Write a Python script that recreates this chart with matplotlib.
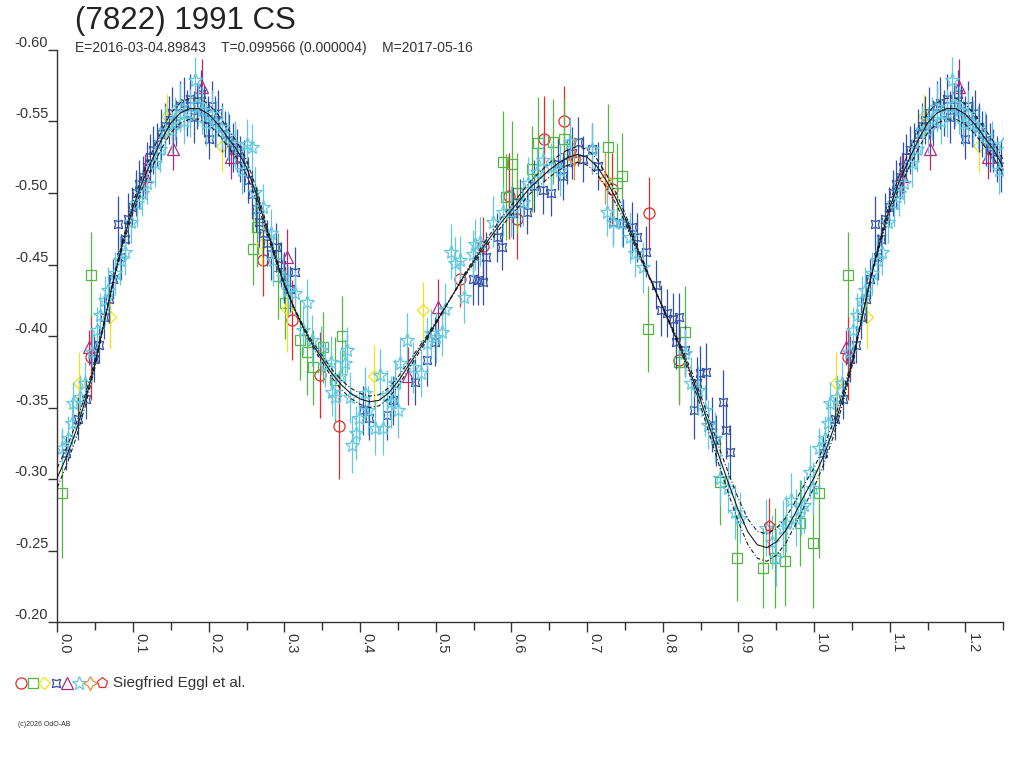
import numpy as np
import matplotlib
matplotlib.use("Agg")
import matplotlib.pyplot as plt

plt.rcParams['font.family'] = ['Liberation Sans', 'DejaVu Sans']

title = "(7822) 1991 CS"
subtitle = "E=2016-03-04.89843    T=0.099566 (0.000004)    M=2017-05-16"
observer = "Siegfried Eggl et al."
credit = "(c)2026 OdO-AB"

x_ticks = [0.0, 0.1, 0.2, 0.3, 0.4, 0.5, 0.6, 0.7, 0.8, 0.9, 1.0, 1.1, 1.2]
y_ticks = [-0.60, -0.55, -0.50, -0.45, -0.40, -0.35, -0.30, -0.25, -0.20]

# fitted lightcurve, phase step 0.0125 (one period)
curve_step = 0.0125
curve_mag = [-0.301, -0.316, -0.334, -0.356, -0.381, -0.411, -0.441, -0.467,
             -0.490, -0.508, -0.523, -0.537, -0.549, -0.556, -0.559, -0.559,
             -0.555, -0.548, -0.539, -0.530, -0.518, -0.500, -0.478, -0.456,
             -0.436, -0.420, -0.406, -0.394, -0.384, -0.374, -0.366, -0.360,
             -0.356, -0.354, -0.355, -0.360, -0.368, -0.378, -0.388, -0.398,
             -0.409, -0.420, -0.431, -0.442, -0.452, -0.462, -0.471, -0.480,
             -0.488, -0.496, -0.504, -0.510, -0.516, -0.521, -0.525, -0.527,
             -0.525, -0.519, -0.509, -0.497, -0.483, -0.466, -0.450, -0.435,
             -0.420, -0.405, -0.390, -0.373, -0.355, -0.335, -0.315, -0.296,
             -0.278, -0.263, -0.254, -0.252, -0.256, -0.264, -0.276, -0.289]
amp_err = 0.055

# observations: phase, reduced magnitude, error
red_phase = [0.045, 0.272, 0.310, 0.347, 0.372, 0.532, 0.562, 0.597, 0.607,
             0.643, 0.669, 0.733, 0.782, 0.821]
red_mag = [-0.385, -0.453, -0.411, -0.373, -0.337, -0.440, -0.463, -0.498,
           -0.482, -0.538, -0.550, -0.503, -0.486, -0.383]
red_err = [0.030, 0.025, 0.028, 0.030, 0.037, 0.020, 0.020, 0.030, 0.028,
           0.030, 0.025, 0.025, 0.025, 0.030]

green_phase = [0.006, 0.045, 0.258, 0.264, 0.292, 0.301, 0.321, 0.330, 0.338,
               0.351, 0.367, 0.376, 0.589, 0.593, 0.601, 0.607, 0.627, 0.635,
               0.655, 0.669, 0.728, 0.739, 0.746, 0.780, 0.821, 0.829, 0.875,
               0.898, 0.932, 0.948, 0.961, 0.981, 0.998]
green_mag = [-0.290, -0.443, -0.461, -0.476, -0.442, -0.423, -0.397, -0.389,
             -0.378, -0.392, -0.369, -0.400, -0.522, -0.497, -0.520, -0.500,
             -0.517, -0.535, -0.536, -0.538, -0.532, -0.507, -0.512, -0.405,
             -0.382, -0.403, -0.298, -0.245, -0.238, -0.245, -0.243, -0.269,
             -0.255]
green_err = [0.045, 0.030, 0.025, 0.028, 0.030, 0.025, 0.028, 0.030, 0.026,
             0.025, 0.030, 0.028, 0.035, 0.030, 0.030, 0.028, 0.030, 0.032,
             0.030, 0.028, 0.030, 0.028, 0.030, 0.030, 0.030, 0.032, 0.030,
             0.030, 0.028, 0.035, 0.032, 0.030, 0.045]

yellow_phase = [0.029, 0.070, 0.145, 0.218, 0.270, 0.303, 0.418, 0.483]
yellow_mag = [-0.367, -0.413, -0.554, -0.533, -0.464, -0.419, -0.372, -0.418]
yellow_err = [0.022, 0.022, 0.015, 0.018, 0.015, 0.030, 0.022, 0.020]

blue_phase = [0.012, 0.028, 0.038, 0.048, 0.055, 0.062, 0.068, 0.074, 0.080,
              0.084, 0.089, 0.094, 0.099, 0.104, 0.108, 0.113, 0.118, 0.122,
              0.127, 0.132, 0.137, 0.142, 0.147, 0.152, 0.157, 0.162, 0.167,
              0.171, 0.176, 0.180, 0.185, 0.190, 0.194, 0.199, 0.200, 0.204,
              0.209, 0.213, 0.218, 0.222, 0.227, 0.232, 0.237, 0.242, 0.247,
              0.252, 0.257, 0.262, 0.267, 0.272, 0.277, 0.283, 0.289, 0.295,
              0.300, 0.307, 0.314, 0.404, 0.412, 0.436, 0.444, 0.473, 0.488,
              0.499, 0.549, 0.556, 0.563, 0.567, 0.581, 0.587, 0.602, 0.612,
              0.620, 0.630, 0.642, 0.653, 0.661, 0.668, 0.673, 0.680, 0.688,
              0.695, 0.706, 0.714, 0.734, 0.747, 0.759, 0.766, 0.778, 0.791,
              0.798, 0.805, 0.813, 0.818, 0.821, 0.830, 0.841, 0.845, 0.849,
              0.857, 0.865, 0.871, 0.879, 0.884, 0.889]
blue_mag = [-0.318, -0.342, -0.356, -0.384, -0.394, -0.413, -0.426, -0.440,
            -0.478, -0.455, -0.468, -0.482, -0.490, -0.500, -0.506, -0.511,
            -0.518, -0.525, -0.530, -0.534, -0.541, -0.547, -0.551, -0.556,
            -0.549, -0.561, -0.563, -0.556, -0.566, -0.553, -0.561, -0.569,
            -0.557, -0.552, -0.538, -0.561, -0.550, -0.556, -0.546, -0.541,
            -0.537, -0.532, -0.530, -0.524, -0.519, -0.509, -0.499, -0.489,
            -0.480, -0.472, -0.465, -0.457, -0.462, -0.450, -0.441, -0.433,
            -0.445, -0.348, -0.343, -0.345, -0.355, -0.368, -0.383, -0.396,
            -0.440, -0.439, -0.438, -0.455, -0.469, -0.462, -0.486, -0.493,
            -0.487, -0.505, -0.502, -0.500, -0.520, -0.512, -0.522, -0.528,
            -0.536, -0.524, -0.531, -0.519, -0.480, -0.479, -0.476, -0.469,
            -0.459, -0.436, -0.418, -0.416, -0.412, -0.396, -0.413, -0.390,
            -0.348, -0.367, -0.374, -0.375, -0.338, -0.327, -0.354, -0.334,
            -0.319]
blue_err = [0.012, 0.015, 0.014, 0.016, 0.013, 0.015, 0.017, 0.014, 0.020,
            0.016, 0.015, 0.018, 0.014, 0.016, 0.017, 0.015, 0.018, 0.016,
            0.017, 0.015, 0.018, 0.016, 0.017, 0.018, 0.016, 0.017, 0.018,
            0.016, 0.017, 0.018, 0.016, 0.017, 0.018, 0.016, 0.014, 0.017,
            0.018, 0.016, 0.017, 0.016, 0.018, 0.017, 0.015, 0.016, 0.018,
            0.016, 0.017, 0.016, 0.018, 0.017, 0.016, 0.018, 0.017, 0.016,
            0.018, 0.016, 0.017, 0.017, 0.016, 0.018, 0.017, 0.016, 0.018,
            0.017, 0.018, 0.017, 0.016, 0.018, 0.017, 0.016, 0.018, 0.017,
            0.016, 0.018, 0.017, 0.016, 0.018, 0.017, 0.016, 0.018, 0.017,
            0.016, 0.018, 0.017, 0.016, 0.017, 0.018, 0.017, 0.018, 0.017,
            0.018, 0.017, 0.018, 0.019, 0.017, 0.018, 0.020, 0.018, 0.019,
            0.020, 0.019, 0.018, 0.022, 0.020, 0.019]

purple_phase = [0.042, 0.116, 0.153, 0.191, 0.230, 0.303, 0.464, 0.503]
purple_mag = [-0.392, -0.512, -0.531, -0.574, -0.525, -0.455, -0.372, -0.420]
purple_err = [0.012, 0.015, 0.015, 0.020, 0.015, 0.020, 0.020, 0.020]

cyan_phase = [0.006, 0.014, 0.019, 0.021, 0.030, 0.037, 0.046, 0.052, 0.057,
              0.063, 0.067, 0.076, 0.083, 0.090, 0.098, 0.105, 0.112, 0.119,
              0.129, 0.136, 0.142, 0.151, 0.156, 0.162, 0.168, 0.175, 0.182,
              0.186, 0.191, 0.197, 0.204, 0.210, 0.217, 0.226, 0.235, 0.244,
              0.250, 0.257, 0.261, 0.272, 0.283, 0.285, 0.298, 0.305, 0.314,
              0.325, 0.330, 0.337, 0.349, 0.354, 0.361, 0.363, 0.367, 0.374,
              0.380, 0.383, 0.387, 0.389, 0.395, 0.398, 0.406, 0.411, 0.420,
              0.427, 0.431, 0.435, 0.441, 0.446, 0.450, 0.453, 0.462, 0.470,
              0.481, 0.488, 0.494, 0.501, 0.508, 0.512, 0.520, 0.525, 0.532,
              0.538, 0.549, 0.552, 0.558, 0.576, 0.589, 0.600, 0.615, 0.622,
              0.634, 0.642, 0.653, 0.664, 0.677, 0.707, 0.727, 0.734, 0.746,
              0.757, 0.763, 0.774, 0.829, 0.838, 0.847, 0.856, 0.860, 0.869,
              0.875, 0.886, 0.895, 0.902, 0.937, 0.944, 0.950, 0.959, 0.963,
              0.970, 0.976, 0.983, 0.987, 0.994, 0.999]
cyan_mag = [-0.322, -0.329, -0.339, -0.353, -0.357, -0.367, -0.389, -0.404,
            -0.415, -0.425, -0.432, -0.444, -0.453, -0.459, -0.480, -0.493,
            -0.500, -0.507, -0.521, -0.531, -0.544, -0.544, -0.552, -0.560,
            -0.550, -0.556, -0.579, -0.562, -0.558, -0.549, -0.555, -0.548,
            -0.546, -0.540, -0.534, -0.516, -0.534, -0.532, -0.501, -0.490,
            -0.472, -0.453, -0.441, -0.432, -0.430, -0.404, -0.424, -0.397,
            -0.390, -0.380, -0.382, -0.361, -0.357, -0.372, -0.381, -0.390,
            -0.357, -0.324, -0.332, -0.343, -0.360, -0.348, -0.336, -0.373,
            -0.336, -0.359, -0.354, -0.367, -0.348, -0.381, -0.397, -0.378,
            -0.374, -0.395, -0.402, -0.399, -0.403, -0.419, -0.459, -0.451,
            -0.453, -0.427, -0.457, -0.464, -0.466, -0.480, -0.487, -0.487,
            -0.494, -0.507, -0.515, -0.523, -0.518, -0.516, -0.536, -0.531,
            -0.487, -0.480, -0.479, -0.469, -0.458, -0.448, -0.388, -0.367,
            -0.362, -0.348, -0.338, -0.329, -0.301, -0.294, -0.277, -0.273,
            -0.266, -0.256, -0.245, -0.266, -0.269, -0.285, -0.273, -0.280,
            -0.282, -0.305, -0.294]
cyan_err = [0.014, 0.015, 0.016, 0.015, 0.016, 0.015, 0.017, 0.016, 0.015,
            0.017, 0.016, 0.015, 0.017, 0.016, 0.015, 0.017, 0.016, 0.015,
            0.017, 0.016, 0.017, 0.016, 0.015, 0.017, 0.016, 0.017, 0.016,
            0.015, 0.017, 0.016, 0.017, 0.016, 0.015, 0.017, 0.016, 0.017,
            0.018, 0.016, 0.017, 0.016, 0.017, 0.018, 0.016, 0.017, 0.016,
            0.017, 0.016, 0.018, 0.017, 0.016, 0.018, 0.017, 0.016, 0.018,
            0.017, 0.016, 0.018, 0.020, 0.019, 0.017, 0.018, 0.017, 0.019,
            0.018, 0.019, 0.017, 0.018, 0.017, 0.019, 0.018, 0.019, 0.018,
            0.017, 0.018, 0.017, 0.018, 0.017, 0.018, 0.019, 0.018, 0.017,
            0.018, 0.017, 0.018, 0.017, 0.018, 0.017, 0.018, 0.017, 0.018,
            0.017, 0.018, 0.017, 0.018, 0.017, 0.018, 0.017, 0.018, 0.017,
            0.018, 0.017, 0.018, 0.017, 0.018, 0.017, 0.018, 0.017, 0.018,
            0.019, 0.018, 0.019, 0.018, 0.020, 0.019, 0.020, 0.019, 0.020,
            0.019, 0.020, 0.019, 0.020, 0.019, 0.018]

orange_phase = [0.683, 0.724]
orange_mag = [-0.524, -0.510]
orange_err = [0.015, 0.018]

pent_phase = [0.941]
pent_mag = [-0.267]
pent_err = [0.020]

X_MAX = 1.25


def wrap(phase, mag, err):
    # repeat the first part of the period after phase 1.0
    x = list(phase) + [p + 1 for p in phase if p + 1 <= X_MAX]
    y = list(mag) + [m for p, m in zip(phase, mag) if p + 1 <= X_MAX]
    e = list(err) + [v for p, v in zip(phase, err) if p + 1 <= X_MAX]
    return x, y, e


series = [
    (red_phase, red_mag, red_err, 'o', '#e82828', 8),
    (green_phase, green_mag, green_err, 's', '#52b640', 6.5),
    (yellow_phase, yellow_mag, yellow_err, 'D', '#f2e21a', 6.5),
    (blue_phase, blue_mag, blue_err, (4, 1, 45), '#3250a8', 8.5),
    (purple_phase, purple_mag, purple_err, '^', '#b02a7c', 8),
    (cyan_phase, cyan_mag, cyan_err, '*', '#62c8e2', 10),
    (orange_phase, orange_mag, orange_err, (4, 1, 0), '#f08a2a', 10),
    (pent_phase, pent_mag, pent_err, 'p', '#e83030', 8),
]

fig = plt.figure(figsize=(10.24, 7.68), dpi=100)
ax = fig.add_axes([57.3 / 1024, 1 - 622 / 768, 946 / 1024, 572 / 768])

for ph, mg, er, mk, col, ms in series:
    x, y, e = wrap(ph, mg, er)
    ax.errorbar(x, y, yerr=e, fmt='none', ecolor=col, elinewidth=0.9, capsize=0)
    ax.plot(x, y, linestyle='none', marker=mk, ms=ms, mfc='none', mec=col, mew=0.9)

# model curve with its amplitude band
n = len(curve_mag)
cx = np.arange(int(round(X_MAX / curve_step)) + 1) * curve_step
cy = np.array([curve_mag[i % n] for i in range(len(cx))])
mean = np.mean(curve_mag)
ax.plot(cx, cy, color='#111111', lw=0.75, zorder=5)
ax.plot(cx, mean + (cy - mean) * (1 + amp_err), color='#111111', lw=0.75,
        linestyle=(0, (4, 2, 1, 2)), zorder=5)
ax.plot(cx, mean + (cy - mean) * (1 - amp_err), color='#111111', lw=0.75,
        linestyle=(0, (4, 2, 1, 2)), zorder=5)

ax.set_xlim(0, X_MAX)
ax.set_ylim(-0.20, -0.60)
for side in ['top', 'right']:
    ax.spines[side].set_visible(False)
for side in ['left', 'bottom']:
    ax.spines[side].set_color('#333333')
    ax.spines[side].set_linewidth(1.0)

ax.set_xticks(x_ticks)
ax.set_xticks([t + 0.05 for t in x_ticks if t + 0.05 <= X_MAX], minor=True)
ax.set_xticklabels([f"{t:.1f}" for t in x_ticks], rotation=-90, ha='left', va='top')
ax.set_yticks(y_ticks)
ax.set_yticklabels([f"{t:.2f}" for t in y_ticks])
for lab in ax.get_yticklabels():
    lab.set_verticalalignment('bottom')
ax.tick_params(axis='x', which='major', direction='out', length=7, width=1.0,
               color='#333333', pad=1, labelsize=10.5, labelcolor='#333333')
ax.tick_params(axis='x', which='minor', direction='out', length=6, width=1.0,
               color='#333333')
ax.tick_params(axis='y', direction='out', length=6.5, width=1.0, color='#333333',
               pad=0, labelsize=10.5, labelcolor='#333333')

fig.text(75 / 1024, 1 - 21 / 768, title, fontsize=22.5, color='#222222',
         ha='left', va='center')
fig.text(75 / 1024, 1 - 48 / 768, subtitle, fontsize=10, color='#333333',
         ha='left', va='center')

# legend row and credit, placed in pixel coordinates
lg = fig.add_axes([0, 0, 1, 1], facecolor='none')
lg.set_xlim(0, 1024)
lg.set_ylim(768, 0)
lg.axis('off')
legend_x = [21, 33, 44, 56, 67, 79, 90, 102]
for lx, (ph, mg, er, mk, col, ms) in zip(legend_x, series):
    lg.plot([lx], [683], linestyle='none', marker=mk, ms=ms, mfc='none', mec=col, mew=0.9)
lg.text(113, 683, observer, fontsize=11, color='#333333', ha='left', va='center')
lg.text(18, 724, credit, fontsize=5, color='#333333', ha='left', va='center')

fig.savefig("out.png", dpi=100, facecolor='white')
